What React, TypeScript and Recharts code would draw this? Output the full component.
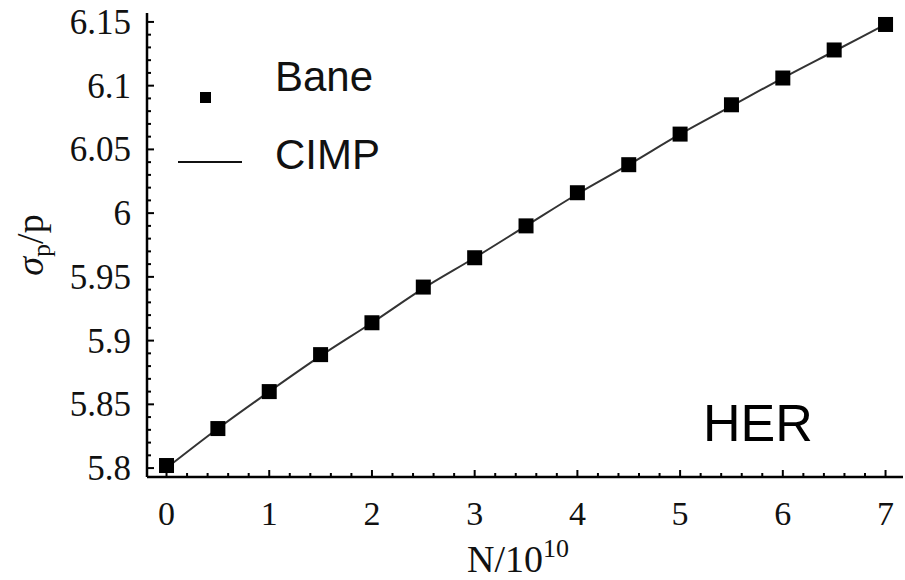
import React from "react";
import { ComposedChart, Line, XAxis, YAxis } from "recharts";

const nValues = [0, 0.5, 1, 1.5, 2, 2.5, 3, 3.5, 4, 4.5, 5, 5.5, 6, 6.5, 7];
const baneValues = [
  5.802, 5.831, 5.86, 5.889, 5.914, 5.942, 5.965, 5.99, 6.016, 6.038, 6.062, 6.085, 6.106, 6.128,
  6.148,
];
const cimpValues = [
  5.8, 5.831, 5.86, 5.888, 5.914, 5.941, 5.965, 5.99, 6.015, 6.038, 6.062, 6.084, 6.106, 6.127,
  6.148,
];
const xMajorTicks = [0, 1, 2, 3, 4, 5, 6, 7];
const yMajorTicks = [5.8, 5.85, 5.9, 5.95, 6, 6.05, 6.1, 6.15];

// minor ticks: every 0.2 on x, every 0.01 on y
const xTicks: number[] = [];
for (let i = 0; i <= 35; i++) xTicks.push(Math.round(i * 2) / 10);
const yTicks: number[] = [];
for (let i = 0; i <= 35; i++) yTicks.push(Math.round((5.8 + i * 0.01) * 100) / 100);

const data = nValues.map((n, i) => ({ n, bane: baneValues[i], cimp: cimpValues[i] }));

const isMajor = (v: number, majors: number[]) => majors.some((m) => Math.abs(m - v) < 1e-6);
const serif = "Liberation Serif";
const sans = "Liberation Sans";

function BottomTick(props: any) {
  const { x, y, payload } = props;
  const major = isMajor(payload.value, xMajorTicks);
  return (
    <g>
      <line x1={x} x2={x} y1={y} y2={y - (major ? 7 : 4)} stroke="#000" strokeWidth={2} />
      {major && (
        <text x={x} y={y + 48} textAnchor="middle" fontFamily={serif} fontSize={34} fill="#111">
          {payload.value}
        </text>
      )}
    </g>
  );
}

function TopTick(props: any) {
  const { x, y, payload } = props;
  const major = isMajor(payload.value, xMajorTicks);
  return <line x1={x} x2={x} y1={y} y2={y + (major ? 7 : 4)} stroke="#000" strokeWidth={2} />;
}

function LeftTick(props: any) {
  const { x, y, payload } = props;
  const major = isMajor(payload.value, yMajorTicks);
  return (
    <g>
      <line x1={x} x2={x + (major ? 7 : 4)} y1={y} y2={y} stroke="#000" strokeWidth={2} />
      {major && (
        <text x={x - 16} y={y + 12} textAnchor="end" fontFamily={serif} fontSize={35} fill="#111">
          {String(payload.value)}
        </text>
      )}
    </g>
  );
}

function RightTick(props: any) {
  const { x, y, payload } = props;
  const major = isMajor(payload.value, yMajorTicks);
  return <line x1={x} x2={x - (major ? 7 : 4)} y1={y} y2={y} stroke="#000" strokeWidth={2} />;
}

function Square(props: any) {
  const { cx, cy } = props;
  if (cx == null || cy == null) return null;
  return <rect x={cx - 7.5} y={cy - 7.5} width={15} height={15} fill="#000" />;
}

export default function App() {
  return (
    <div style={{ position: "absolute", left: 0, top: 0, width: 905, height: 580, background: "#fff", overflow: "hidden" }}>
      <ComposedChart
        width={905}
        height={580}
        data={data}
        margin={{ top: 13, right: 2, bottom: 0, left: 0 }}
      >
        <XAxis
          xAxisId="b"
          dataKey="n"
          type="number"
          domain={[-0.19, 7.17]}
          ticks={xTicks}
          interval={0}
          height={103}
          tickLine={false}
          tickSize={0}
          tickMargin={0}
          axisLine={{ stroke: "#000", strokeWidth: 2.5 }}
          tick={<BottomTick />}
          allowDataOverflow
        />
        <XAxis
          xAxisId="t"
          dataKey="n"
          type="number"
          orientation="top"
          domain={[-0.19, 7.17]}
          ticks={xTicks}
          interval={0}
          height={0}
          tickLine={false}
          tickSize={0}
          tickMargin={0}
          axisLine={{ stroke: "#000", strokeWidth: 2.5 }}
          tick={<TopTick />}
          allowDataOverflow
        />
        <YAxis
          yAxisId="l"
          type="number"
          domain={[5.793, 6.157]}
          ticks={yTicks}
          interval={0}
          width={147}
          tickLine={false}
          tickSize={0}
          tickMargin={0}
          axisLine={{ stroke: "#000", strokeWidth: 2.5 }}
          tick={<LeftTick />}
          allowDataOverflow
        />
        <YAxis
          yAxisId="r"
          type="number"
          orientation="right"
          domain={[5.793, 6.157]}
          ticks={yTicks}
          interval={0}
          width={0}
          tickLine={false}
          tickSize={0}
          tickMargin={0}
          axisLine={{ stroke: "#000", strokeWidth: 2.5 }}
          tick={<RightTick />}
          allowDataOverflow
        />
        <Line
          xAxisId="b"
          yAxisId="l"
          type="monotone"
          dataKey="cimp"
          stroke="#333"
          strokeWidth={2}
          dot={false}
          isAnimationActive={false}
        />
        <Line
          xAxisId="b"
          yAxisId="l"
          dataKey="bane"
          stroke="none"
          dot={<Square />}
          activeDot={false}
          isAnimationActive={false}
        />
      </ComposedChart>

      {/* legend */}
      <div style={{ position: "absolute", left: 200, top: 92, width: 11, height: 11, background: "#000" }} />
      <div
        style={{ position: "absolute", left: 275, top: 52, fontFamily: sans, fontSize: 42, lineHeight: "50px", color: "#111" }}
      >
        Bane
      </div>
      <div style={{ position: "absolute", left: 178, top: 161, width: 64, height: 2, background: "#111" }} />
      <div
        style={{ position: "absolute", left: 275, top: 130, fontFamily: sans, fontSize: 42, lineHeight: "50px", color: "#111" }}
      >
        CIMP
      </div>
      <div
        style={{ position: "absolute", left: 703, top: 393, fontFamily: sans, fontSize: 52, lineHeight: "60px", color: "#000" }}
      >
        HER
      </div>

      {/* axis titles */}
      <div
        style={{
          position: "absolute",
          left: 467,
          top: 540,
          fontFamily: serif,
          fontSize: 38,
          lineHeight: "38px",
          color: "#111",
          whiteSpace: "nowrap",
        }}
      >
        N/10<sup style={{ fontSize: 26, verticalAlign: "15px", lineHeight: "0" }}>10</sup>
      </div>
      <div
        style={{
          position: "absolute",
          left: 36,
          top: 245,
          transform: "translate(-50%, -50%) rotate(-90deg)",
          fontFamily: serif,
          fontSize: 38,
          lineHeight: "44px",
          color: "#111",
          whiteSpace: "nowrap",
        }}
      >
        <span style={{ fontStyle: "italic" }}>σ</span>
        <sub style={{ fontSize: 26, verticalAlign: "-7px" }}>p</sub>/p
      </div>
    </div>
  );
}
